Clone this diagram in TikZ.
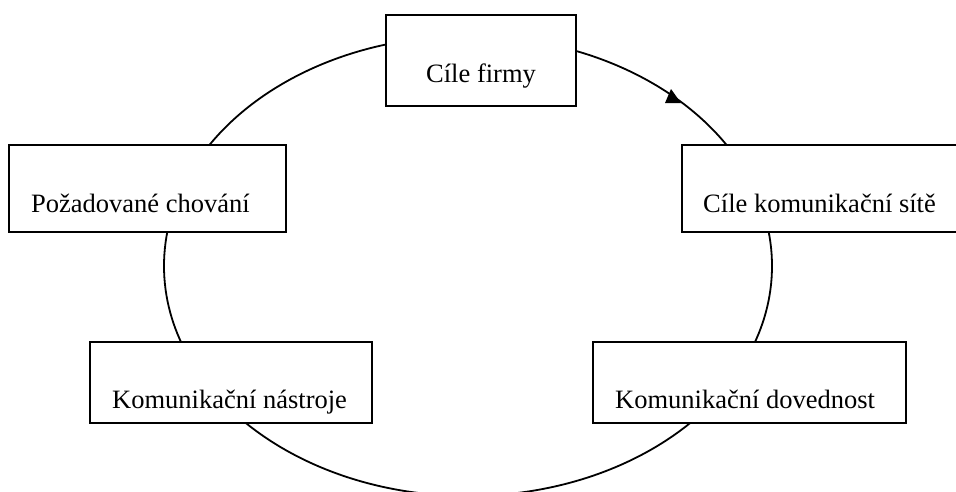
\documentclass[tikz,border=0pt]{standalone}
\usepackage{fontspec}
\setmainfont{Liberation Serif}
\begin{document}
\begin{tikzpicture}[x=1pt,y=-1pt,
  box/.style={draw=black,line width=2.1pt,fill=white,rectangle,inner sep=0pt},
  lbl/.style={anchor=base west,inner sep=0pt,font=\fontsize{26.5}{30}\selectfont}]
\useasboundingbox (0,0) rectangle (956,491);
% cycle
\draw[line width=1.8pt] (468,266) ellipse [x radius=304, y radius=230];
\fill (671,89) -- (665,103) -- (681,103) -- cycle;
% boxes
\node[box,minimum width=190pt,minimum height=91pt] (firmy) at (481,60.5) {};
\node[box,minimum width=277pt,minimum height=87pt] (chovani) at (147.5,188.5) {};
\node[box,minimum width=280pt,minimum height=87pt] (site) at (822,188.5) {};
\node[box,minimum width=282pt,minimum height=81pt] (nastroje) at (231,382.5) {};
\node[box,minimum width=313pt,minimum height=81pt] (dovednost) at (749.5,382.5) {};
% labels
\node[lbl] (t1) at (426,82) {Cíle firmy};
\node[lbl] (t2) at (31,212) {Požadované chování};
\node[lbl] (t3) at (703,212) {Cíle komunikační sítě};
\node[lbl] (t4) at (112,408) {Komunikační nástroje};
\node[lbl] (t5) at (615,408) {Komunikační dovednost};
\end{tikzpicture}
\end{document}
